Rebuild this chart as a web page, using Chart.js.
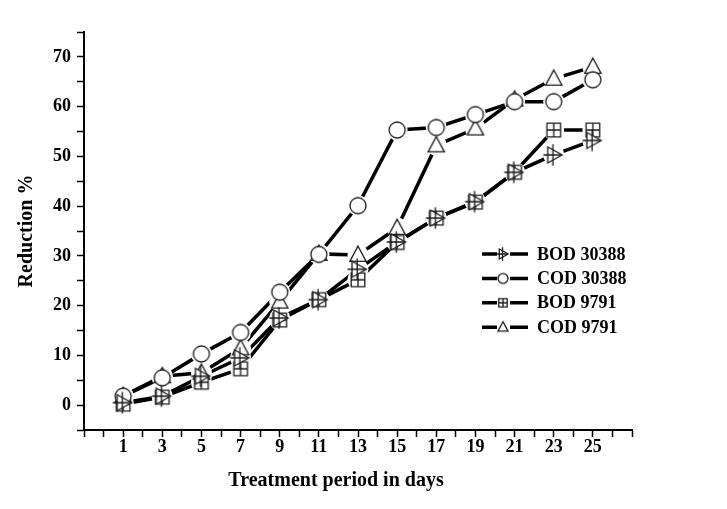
<!DOCTYPE html>
<html>
<head>
<meta charset="utf-8">
<script src="https://cdn.jsdelivr.net/npm/chart.js@4/dist/chart.umd.min.js"></script>
<style>
  html, body { margin: 0; padding: 0; background: #fff; }
  #wrap { width: 727px; height: 509px; }
</style>
</head>
<body>
<div id="wrap"><canvas id="reductionChart" width="727" height="509"></canvas></div>
<script>
// treatment days and % reduction
var days = [1, 3, 5, 7, 9, 11, 13, 15, 17, 19, 21, 23, 25];
var bod30388 = [0.5, 1.8, 5.8, 9.5, 17.5, 21.2, 27.3, 32.8, 37.6, 40.9, 46.8, 50.3, 53.2];
var cod30388 = [1.8, 5.5, 10.3, 14.6, 22.7, 30.3, 40.1, 55.3, 55.8, 58.4, 61.0, 61.0, 65.4];
var bod9791  = [0.2, 1.6, 4.6, 7.3, 17.1, 21.2, 25.2, 32.7, 37.6, 40.8, 46.8, 55.3, 55.3];
var cod9791  = [1.8, 5.8, 6.5, 11.4, 20.8, 30.4, 30.2, 35.6, 52.2, 55.6, 61.4, 65.6, 68.0];

var seriesNames = ['BOD 30388', 'COD 30388', 'BOD 9791', 'COD 9791'];
var seriesData = [bod30388, cod30388, bod9791, cod9791];
var seriesMarks = ['triRight', 'circle', 'squarePlus', 'triUp'];

var serif = '"Liberation Serif", "Times New Roman", serif';

function pts(values) {
    return values.map(function (v, i) { return { x: days[i], y: v }; });
}

// little canvases used as point styles (hollow Origin-like symbols)
function makeMarker(kind, k) {
    var size = Math.round(30 * k);
    if (size % 2) size++;
    var c = document.createElement('canvas');
    c.width = size; c.height = size;
    var g = c.getContext('2d');
    g.translate(size / 2, size / 2);
    g.strokeStyle = '#1a1a1a';
    g.fillStyle = '#fff';
    g.lineWidth = 1.3;
    var r = 8 * k;
    g.beginPath();
    if (kind === 'circle') {
        g.arc(0, 0, r, 0, Math.PI * 2);
        g.fill(); g.stroke();
    } else if (kind === 'triUp') {
        g.moveTo(0, -r * 1.1);
        g.lineTo(r * 1.02, r * 0.8);
        g.lineTo(-r * 1.02, r * 0.8);
        g.closePath();
        g.fill(); g.stroke();
    } else if (kind === 'squarePlus') {
        var s = r * 0.85;
        g.rect(-s, -s, 2 * s, 2 * s);
        g.fill(); g.stroke();
        g.beginPath();
        g.moveTo(0, -s); g.lineTo(0, s);
        g.moveTo(-s, 0); g.lineTo(s, 0);
        g.stroke();
    } else if (kind === 'triRight') {
        g.moveTo(-r * 0.75, -r);
        g.lineTo(r * 1.05, 0);
        g.lineTo(-r * 0.75, r);
        g.closePath();
        g.fill(); g.stroke();
        g.beginPath();
        g.moveTo(-r * 0.1, -r * 1.35); g.lineTo(-r * 0.1, r * 1.35);
        g.moveTo(-r * 1.3, 0); g.lineTo(r * 0.9, 0);
        g.stroke();
    }
    return c;
}

var datasets = [];
// pass 1: thick black lines
seriesData.forEach(function (vals, i) {
    datasets.push({
        label: seriesNames[i],
        data: pts(vals),
        showLine: true,
        borderColor: '#000',
        borderWidth: 3.5,
        pointRadius: 0,
        fill: false,
        order: 3
    });
});
// pass 2: white gaps round the symbols
seriesData.forEach(function (vals, i) {
    datasets.push({
        label: 'gap',
        data: pts(vals),
        showLine: false,
        pointStyle: 'circle',
        pointRadius: 10.5,
        pointBackgroundColor: '#fff',
        pointBorderWidth: 0,
        order: 2
    });
});
// pass 3: the symbols
seriesData.forEach(function (vals, i) {
    datasets.push({
        label: 'mark',
        data: pts(vals),
        showLine: false,
        pointStyle: makeMarker(seriesMarks[i], 1),
        pointRadius: 8,
        order: 1
    });
});

// axis titles + legend box inside the plot
var decor = {
    id: 'decor',
    afterDraw: function (chart) {
        var ctx = chart.ctx;
        ctx.save();
        ctx.fillStyle = '#000';
        ctx.font = 'bold 20px ' + serif;
        ctx.textAlign = 'center';
        ctx.textBaseline = 'middle';
        ctx.fillText('Treatment period in days', 336, 481);
        ctx.save();
        ctx.translate(27, 231);
        ctx.rotate(-Math.PI / 2);
        ctx.fillText('Reduction %', 0, 0);
        ctx.restore();

        ctx.font = 'bold 18px ' + serif;
        ctx.textAlign = 'left';
        for (var i = 0; i < seriesNames.length; i++) {
            var y = 254 + i * 24.4;
            ctx.strokeStyle = '#000';
            ctx.lineWidth = 3.5;
            ctx.beginPath();
            ctx.moveTo(482, y); ctx.lineTo(497, y);
            ctx.moveTo(510, y); ctx.lineTo(528, y);
            ctx.stroke();
            var m = makeMarker(seriesMarks[i], 0.62);
            ctx.drawImage(m, 503 - m.width / 2, y - m.height / 2);
            ctx.fillText(seriesNames[i], 537, y + 1);
        }
        ctx.restore();
    }
};

new Chart(document.getElementById('reductionChart').getContext('2d'), {
    type: 'scatter',
    data: { datasets: datasets },
    options: {
        responsive: false,
        animation: false,
        devicePixelRatio: 1,
        layout: { padding: { top: 32, right: 95, left: 0, bottom: 0 } },
        plugins: {
            legend: { display: false },
            tooltip: { enabled: false }
        },
        scales: {
            x: {
                type: 'linear',
                min: -1,
                max: 27,
                afterFit: function (scale) { scale.height = 79; },
                ticks: {
                    stepSize: 1,
                    autoSkip: false,
                    maxRotation: 0,
                    padding: 0,
                    color: '#000',
                    font: { family: serif, size: 18, weight: 'bold' },
                    callback: function (v) {
                        return (v >= 1 && v <= 25 && v % 2 === 1) ? v : '';
                    }
                },
                grid: { drawOnChartArea: false, drawTicks: true, tickLength: 7, tickColor: '#000', tickWidth: 1.5 },
                border: { display: true, color: '#000', width: 2 }
            },
            y: {
                type: 'linear',
                min: -5,
                max: 75,
                afterFit: function (scale) { scale.width = 84; },
                ticks: {
                    stepSize: 5,
                    autoSkip: false,
                    padding: 6,
                    color: '#000',
                    font: { family: serif, size: 18, weight: 'bold' },
                    callback: function (v) {
                        return (v >= 0 && v <= 70 && v % 10 === 0) ? v : '';
                    }
                },
                grid: { drawOnChartArea: false, drawTicks: true, tickLength: 7, tickColor: '#000', tickWidth: 1.5 },
                border: { display: true, color: '#000', width: 2 }
            }
        }
    },
    plugins: [decor]
});
</script>
</body>
</html>
